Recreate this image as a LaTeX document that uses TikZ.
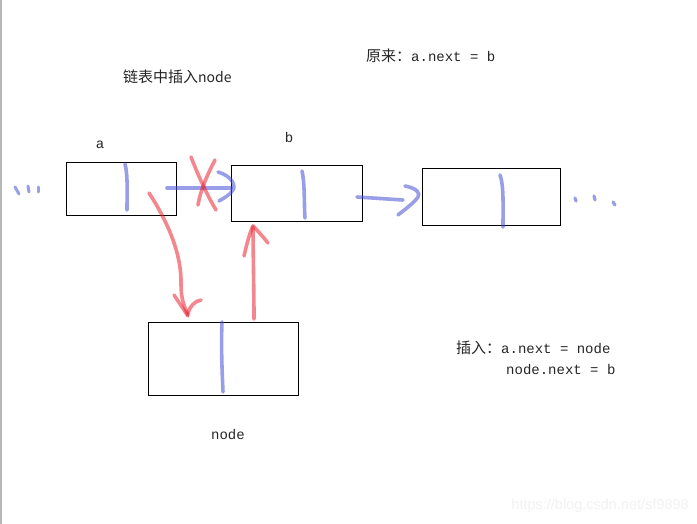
\documentclass[tikz,border=0pt]{standalone}
\usepackage{fontspec}
\setmainfont{Liberation Mono}
\newfontfamily\cjk{Noto Sans CJK SC}
\newfontfamily\wm{Liberation Sans}
\begin{document}
\begin{tikzpicture}[x=1pt,y=-1pt,
  box/.style={draw=black,line width=1pt,inner sep=0pt},
  lbl/.style={font=\fontsize{14}{16}\selectfont,text=black!85,inner sep=0pt},
  pen/.style={line width=3.6pt,line cap=round,line join=round,opacity=0.55},
  bpen/.style={pen,draw={rgb,255:red,70;green,80;blue,215}},
  rpen/.style={pen,draw={rgb,255:red,235;green,35;blue,50}},
  dotb/.style={fill={rgb,255:red,70;green,80;blue,215},opacity=0.75}]
\useasboundingbox (0,0) rectangle (697,524);
\fill[white] (0,0) rectangle (697,524);
\fill[black!28] (0,0) rectangle (2,524);
% boxes
\node[box,minimum width=110pt,minimum height=53pt] (A) at (121,189.5) {};
\node[box,minimum width=131pt,minimum height=56pt] (B) at (296.5,194) {};
\node[box,minimum width=138pt,minimum height=57pt] (C) at (491,197.5) {};
\node[box,minimum width=150pt,minimum height=73pt] (N) at (223,358.5) {};
% labels
\node[lbl] (la) at (100,145) {a};
\node[lbl] (lb) at (289,137) {b};
\node[lbl] (ln) at (228,435) {node};
\node[lbl,anchor=west] (title) at (123,77) {{\cjk\fontsize{15}{16}\selectfont 链表中插入}{\cjk node}};
\node[lbl,anchor=west] (orig) at (366,56) {{\cjk\fontsize{15}{16}\selectfont 原来：}a.next = b};
\node[lbl,anchor=west] (ins1) at (456,348) {{\cjk\fontsize{15}{16}\selectfont 插入：}a.next = node};
\node[lbl,anchor=west] (ins2) at (506,370) {node.next = b};
\node[anchor=east,inner sep=0pt,text=black!5,font=\wm\fontsize{14.5}{16}\selectfont] (wmk) at (689,506) {https://blog.csdn.net/sf9898};
% blue pointer strokes
\draw[bpen] (125,164) .. controls (128,175) and (127,195) .. (127,210);
\draw[bpen] (302,171) .. controls (305,185) and (304,205) .. (305,218);
\draw[bpen] (500,175) .. controls (504,185) and (503,210) .. (503,227);
\draw[bpen] (222,322) .. controls (221,345) and (222,370) .. (223,392);
% blue arrows
\draw[bpen] (167,188) -- (231,188);
\draw[bpen] (218,172) .. controls (232,176) and (236,186) .. (233,190) .. controls (230,195) and (224,198) .. (219,201);
\draw[bpen] (357,197) -- (403,200);
\draw[bpen] (405,186) .. controls (416,188) and (421,193) .. (418,197) .. controls (413,204) and (404,210) .. (398,215);
% red X
\draw[rpen] (191,157) .. controls (198,175) and (207,195) .. (216,210);
\draw[rpen] (215,160) .. controls (207,175) and (200,192) .. (198,205);
% red arrow a -> node
\draw[rpen] (149,193) .. controls (168,222) and (182,255) .. (181,285) .. controls (181,300) and (185,308) .. (188,315);
\draw[rpen] (174,295) -- (188,316);
\draw[rpen] (201,300) .. controls (195,301) and (190,306) .. (188,313);
% red arrow node -> b
\draw[rpen] (254,319) .. controls (254,290) and (253,250) .. (253,227);
\draw[rpen] (244,256) .. controls (247,243) and (250,232) .. (253,226) .. controls (258,231) and (264,238) .. (268,243);
% dots
\draw[bpen,line width=3pt] (15,187) -- (19,194);
\draw[bpen,line width=3pt] (28,186) -- (29,192);
\draw[bpen,line width=3pt] (38,187) -- (38,192);
\draw[bpen,line width=3.2pt] (575,198) -- (576,201);
\draw[bpen,line width=3.2pt] (594,196) -- (595,200);
\draw[bpen,line width=3.2pt] (613,202) -- (615,205);
\end{tikzpicture}
\end{document}
